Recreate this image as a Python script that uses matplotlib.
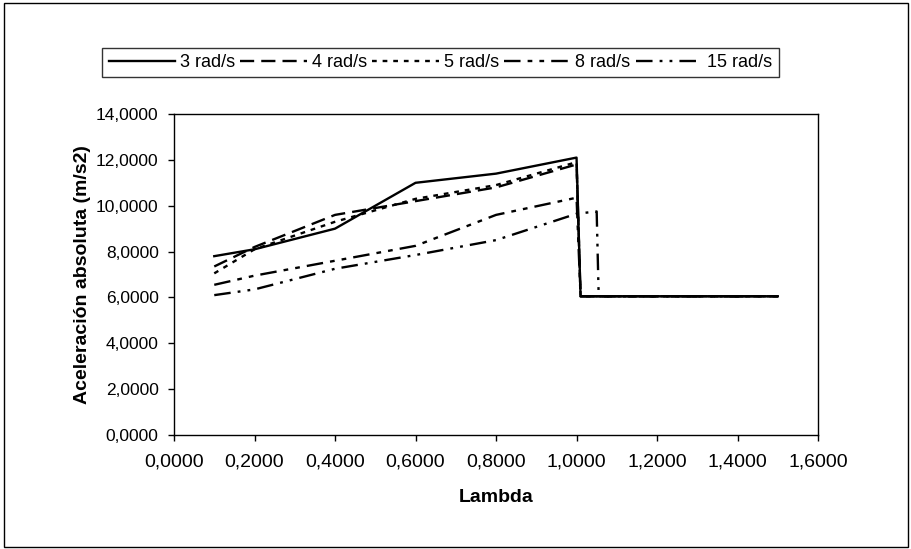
import matplotlib
matplotlib.use("Agg")
import matplotlib.pyplot as plt
from matplotlib.ticker import FuncFormatter
from matplotlib.patches import Rectangle

plt.rcParams['font.family'] = ['Liberation Sans', 'DejaVu Sans']

# Lambda values for each series
x_3 = [0.1, 0.2, 0.4, 0.6, 0.8, 1.0, 1.01, 1.5]
x_4 = [0.1, 0.2, 0.4, 0.6, 0.8, 1.0, 1.01, 1.5]
x_5 = [0.1, 0.2, 0.4, 0.6, 0.8, 1.0, 1.01, 1.5]
x_8 = [0.1, 0.2, 0.4, 0.6, 0.8, 1.0, 1.01, 1.5]
x_15 = [0.1, 0.2, 0.4, 0.6, 0.8, 1.0, 1.05, 1.055, 1.5]

# Absolute acceleration (m/s2)
y_3 = [7.8, 8.1, 9.0, 11.0, 11.4, 12.1, 6.05, 6.05]
y_4 = [7.35, 8.2, 9.6, 10.2, 10.8, 11.8, 6.05, 6.05]
y_5 = [7.05, 8.1, 9.3, 10.3, 10.9, 11.9, 6.05, 6.05]
y_8 = [6.55, 6.95, 7.6, 8.25, 9.6, 10.35, 6.05, 6.05]
y_15 = [6.1, 6.35, 7.25, 7.85, 8.5, 9.65, 9.75, 6.05, 6.05]

labels = ['3 rad/s', '4 rad/s', '5 rad/s', '8 rad/s', '15 rad/s']
x_ticks = [0.0, 0.2, 0.4, 0.6, 0.8, 1.0, 1.2, 1.4, 1.6]
y_ticks = [0, 2, 4, 6, 8, 10, 12, 14]

styles = [
    '-',
    (0, (6, 3)),
    (0, (2, 2.5)),
    (0, (7, 3, 2, 3, 2, 3)),
    (0, (7, 3, 1.2, 3, 1.2, 3)),
]

fig = plt.figure(figsize=(9.12, 5.49), dpi=100)
ax = fig.add_axes([0.1908, 0.2077, 0.7062, 0.5846])

series = [(x_3, y_3), (x_4, y_4), (x_5, y_5), (x_8, y_8), (x_15, y_15)]
handles = []
for (xs, ys), lab, ls in zip(series, labels, styles):
    h, = ax.plot(xs, ys, color='black', linewidth=1.7, linestyle=ls, label=lab)
    handles.append(h)

ax.set_xlim(0, 1.6)
ax.set_ylim(0, 14)
ax.set_xticks(x_ticks)
ax.set_yticks(y_ticks)
fmt = FuncFormatter(lambda v, p: f"{v:.4f}".replace('.', ','))
ax.xaxis.set_major_formatter(fmt)
ax.yaxis.set_major_formatter(fmt)
ax.tick_params(direction='out', length=4, width=1, color='black')
ax.tick_params(axis='x', pad=9, labelsize=14)
ax.tick_params(axis='y', pad=7, labelsize=12.5)
for s in ax.spines.values():
    s.set_color('black')
    s.set_linewidth(1)

ax.set_xlabel('Lambda', fontsize=14, fontweight='bold', labelpad=14)
ax.set_ylabel('Aceleración absoluta (m/s2)', fontsize=14, fontweight='bold', labelpad=4)

leg = fig.legend(handles=handles, loc='center', bbox_to_anchor=(0.483, 0.886), ncol=5,
                 fontsize=13, frameon=True, fancybox=False, edgecolor='black',
                 handlelength=3.7, handletextpad=0.25, columnspacing=0.3,
                 borderpad=0.35, borderaxespad=0)
leg.get_frame().set_linewidth(1)

# Outer chart border
fig.patches.append(Rectangle((0.004, 0.004), 0.992, 0.99, transform=fig.transFigure,
                             fill=False, edgecolor='black', linewidth=1))

fig.savefig('out.png', dpi=100)
